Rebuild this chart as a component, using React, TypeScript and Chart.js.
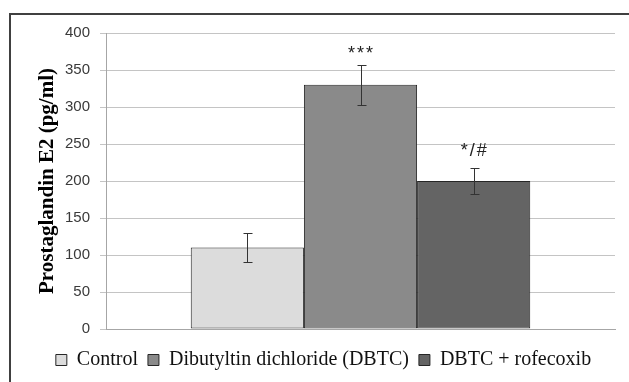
import React, { useEffect, useRef } from 'react';
import { Chart, registerables } from 'chart.js';

Chart.register(...registerables);

const categories = [''];
const seriesNames = ['Control', 'Dibutyltin dichloride (DBTC)', 'DBTC + rofecoxib'];
const seriesValues = [110, 330, 200];
const seriesErrors = [20, 27, 18];
const seriesColors = ['#dcdcdc', '#8a8a8a', '#646464'];
const significanceLabels = ['', '***', '*/#'];
const significanceLevels = [0, 368, 236];
const yMin = 0;
const yMax = 400;
const yStep = 50;

const errorBarPlugin = {
  id: 'errorBars',
  afterDatasetsDraw(chart: any) {
    const ctx = chart.ctx;
    const yScale = chart.scales.y;
    chart.data.datasets.forEach((ds: any, i: number) => {
      const meta = chart.getDatasetMeta(i);
      meta.data.forEach((el: any, j: number) => {
        const v = ds.data[j];
        const e = seriesErrors[i];
        const x = Math.round(el.x) + 0.5;
        const top = Math.round(yScale.getPixelForValue(v + e)) + 0.5;
        const bot = Math.round(yScale.getPixelForValue(v - e)) + 0.5;
        ctx.save();
        ctx.strokeStyle = '#333333';
        ctx.lineWidth = 1;
        ctx.beginPath();
        ctx.moveTo(x, top);
        ctx.lineTo(x, bot);
        ctx.moveTo(x - 4, top);
        ctx.lineTo(x + 5, top);
        ctx.moveTo(x - 4, bot);
        ctx.lineTo(x + 5, bot);
        ctx.stroke();
        const label = significanceLabels[i];
        if (label) {
          ctx.font = '18px "Liberation Sans", Arial, sans-serif';
          try {
            (ctx as any).letterSpacing = '2px';
          } catch (err) {
            /* ignore */
          }
          ctx.textAlign = 'center';
          ctx.textBaseline = 'alphabetic';
          ctx.fillStyle = '#222222';
          ctx.fillText(label, el.x + 1, yScale.getPixelForValue(significanceLevels[i]) + 2);
        }
        ctx.restore();
      });
    });
  },
};

export default function App() {
  const canvasRef = useRef<HTMLCanvasElement | null>(null);

  useEffect(() => {
    if (!canvasRef.current) return;
    const chart = new Chart(canvasRef.current, {
      type: 'bar',
      data: {
        labels: categories,
        datasets: seriesNames.map((name, i) => ({
          label: name,
          data: [seriesValues[i]],
          backgroundColor: seriesColors[i],
          borderColor: '#262626',
          borderWidth: 1,
          borderSkipped: false,
          categoryPercentage: 0.667,
          barPercentage: 1,
        })),
      },
      options: {
        animation: false,
        responsive: false,
        layout: { padding: { left: 32, right: 14, top: 33, bottom: 2 } },
        plugins: {
          tooltip: { enabled: false },
          legend: {
            position: 'bottom',
            labels: {
              boxWidth: 11,
              boxHeight: 11,
              padding: 10,
              color: '#111111',
              font: { family: '"Liberation Serif", "Times New Roman", serif', size: 20 },
            },
          },
        },
        scales: {
          x: {
            type: 'category',
            offset: true,
            grid: { display: false },
            border: { display: true, color: '#a6a6a6' },
            ticks: { display: false },
            afterFit: (s: any) => {
              s.height = 11;
            },
          },
          y: {
            min: yMin,
            max: yMax,
            ticks: {
              stepSize: yStep,
              padding: 10,
              color: '#3a3a3a',
              font: { family: '"Liberation Sans", Arial, sans-serif', size: 15 },
            },
            grid: { color: '#c4c4c4', tickLength: 6, tickColor: '#c4c4c4' },
            border: { color: '#a6a6a6' },
            title: {
              display: true,
              text: 'Prostaglandin E2 (pg/ml)',
              color: '#000000',
              font: { family: '"Liberation Serif", "Times New Roman", serif', size: 21, weight: 'bold' },
              padding: { top: 3, bottom: 0 },
            },
            afterFit: (s: any) => {
              s.width = 74;
            },
          },
        },
      },
      plugins: [errorBarPlugin],
    } as any);
    return () => chart.destroy();
  }, []);

  return (
    <div
      style={{
        position: 'absolute',
        left: 0,
        top: 0,
        width: 629,
        height: 382,
        overflow: 'hidden',
        background: '#ffffff',
      }}
    >
      <div
        style={{
          position: 'absolute',
          left: 9,
          top: 13,
          width: 700,
          height: 420,
          border: '2px solid #404040',
        }}
      />
      <canvas
        ref={canvasRef}
        width={629}
        height={382}
        style={{ position: 'absolute', left: 0, top: 0, width: 629, height: 382 }}
      />
    </div>
  );
}
